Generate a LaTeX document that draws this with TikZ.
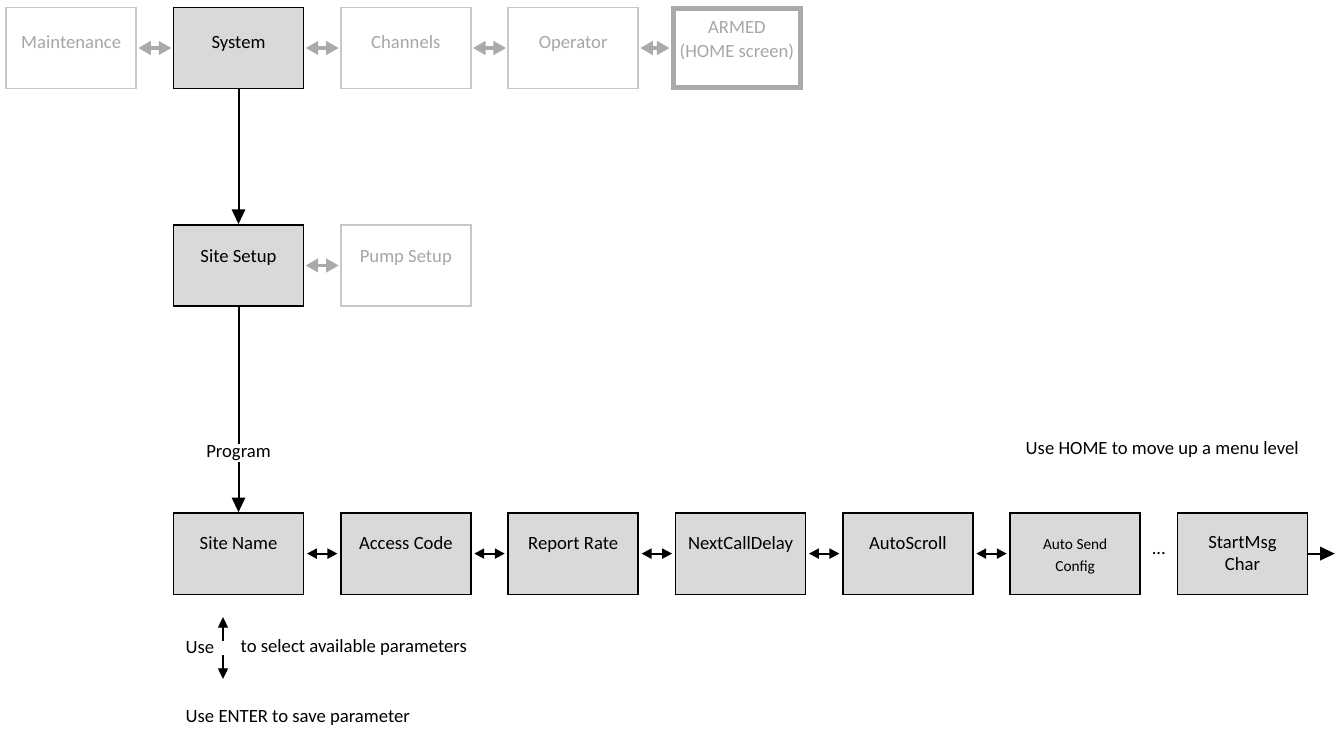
\documentclass[tikz,border=0pt]{standalone}
\usepackage{fontspec}
\setmainfont{Carlito}
\usetikzlibrary{positioning,arrows.meta}
\definecolor{menufill}{HTML}{D9D9D9}
\definecolor{dimtext}{HTML}{A6A6A6}
\definecolor{dimline}{HTML}{C8C8C8}
\definecolor{dimarrow}{HTML}{AAAAAA}
\newcommand{\boxlabel}[2][2pt]{\raisebox{#1}[0pt][0pt]{\begin{tabular}{@{}c@{}}#2\end{tabular}}}

\begin{document}
\begin{tikzpicture}[x=0.75pt, y=-0.75pt, font=\fontsize{14pt}{16.5pt}\selectfont, node distance=26.9pt]
	\tikzstyle{menubox} = [rectangle, draw, line width=1.1pt, fill=menufill, minimum width=97.5pt, minimum height=61pt, inner sep=0pt]
	\tikzstyle{dimbox} = [rectangle, draw=dimline, line width=1.1pt, text=dimtext, minimum width=97.5pt, minimum height=61pt, inner sep=0pt]
	\tikzstyle{dimlink} = [draw=dimarrow, line width=2.5pt, {Triangle[width=10pt,length=9.5pt]}-{Triangle[width=10pt,length=9.5pt]}, shorten <=1pt, shorten >=1pt]
	\tikzstyle{menulink} = [line width=1.5pt, {Triangle[width=7.5pt,length=7.5pt]}-{Triangle[width=7.5pt,length=7.5pt]}, shorten <=2pt, shorten >=2pt]
	\tikzstyle{downarrow} = [line width=1.5pt, -{Triangle[width=10pt,length=11pt]}]
	\tikzstyle{selarrow} = [line width=0.9pt, -{Triangle[width=7.5pt,length=8pt]}]
	\useasboundingbox (0,0) rectangle (1339,729);

	% top menu row
	\node[menubox] (system) at (238.5,48) {\boxlabel[-0.3pt]{System}};
	\node[dimbox, left=of system] (maintenance) {\boxlabel[-0.3pt]{Maintenance}};
	\node[dimbox, right=of system] (channels) {\boxlabel[-0.3pt]{Channels}};
	\node[dimbox, right=of channels] (operator) {\boxlabel[-0.3pt]{Operator}};
	\node[dimbox, right=24pt of operator, line width=4pt, draw=dimarrow, minimum width=95pt, minimum height=59pt] (armed) {\boxlabel[1.5pt]{ARMED\\[1pt](HOME screen)}};

	\draw[dimlink] (maintenance) -- (system);
	\draw[dimlink] (system) -- (channels);
	\draw[dimlink] (channels) -- (operator);
	\draw[dimlink] (operator) -- (armed);

	% setup level
	\node[menubox, below=101pt of system] (sitesetup) {\boxlabel{Site Setup}};
	\node[dimbox, right=of sitesetup] (pumpsetup) {\boxlabel{Pump Setup}};
	\draw[dimlink] (sitesetup) -- (pumpsetup);
	\draw[downarrow] (system) -- (sitesetup);

	% parameter row
	\node[menubox, below=154pt of sitesetup] (sitename) {\boxlabel[3pt]{Site Name}};
	\node[menubox, right=of sitename] (accesscode) {\boxlabel[3pt]{Access Code}};
	\node[menubox, right=of accesscode] (reportrate) {\boxlabel[3pt]{Report Rate}};
	\node[menubox, right=of reportrate] (nextcall) {\boxlabel[3pt]{NextCallDelay}};
	\node[menubox, right=of nextcall] (autoscroll) {\boxlabel[3pt]{AutoScroll}};
	\node[menubox, right=of autoscroll, font=\fontsize{11.5pt}{16.5pt}\selectfont] (autosend) {\boxlabel[-5pt]{Auto Send\\Config}};
	\node[menubox, right=of autosend] (startmsg) {\boxlabel[-5pt]{StartMsg\\Char}};
	\coordinate[right=20pt of startmsg] (moreparams);

	\draw[downarrow] (sitesetup) -- node[fill=white, inner sep=1pt, pos=0.71] (program) {Program} (sitename);
	\draw[menulink] (sitename) -- (accesscode);
	\draw[menulink] (accesscode) -- (reportrate);
	\draw[menulink] (reportrate) -- (nextcall);
	\draw[menulink] (nextcall) -- (autoscroll);
	\draw[menulink] (autoscroll) -- (autosend);
	\path (autosend) -- node (dots) {...} (startmsg);
	\draw[downarrow] (startmsg) -- (moreparams);

	% notes
	\node[anchor=west] (homenote) at (1021,450) {Use HOME to move up a menu level};
	\node[anchor=west] (usesel) at (181,648) {Use};
	\node[anchor=west] (selnote) at (236,648) {to select available parameters};
	\node[anchor=west] (enternote) at (181,718) {Use ENTER to save parameter};
	\coordinate (uptip) at (223,617);
	\coordinate (upbase) at (223,641);
	\coordinate (downbase) at (223,655);
	\coordinate (downtip) at (223,679);
	\draw[selarrow] (upbase) -- (uptip);
	\draw[selarrow] (downbase) -- (downtip);
\end{tikzpicture}
\end{document}
